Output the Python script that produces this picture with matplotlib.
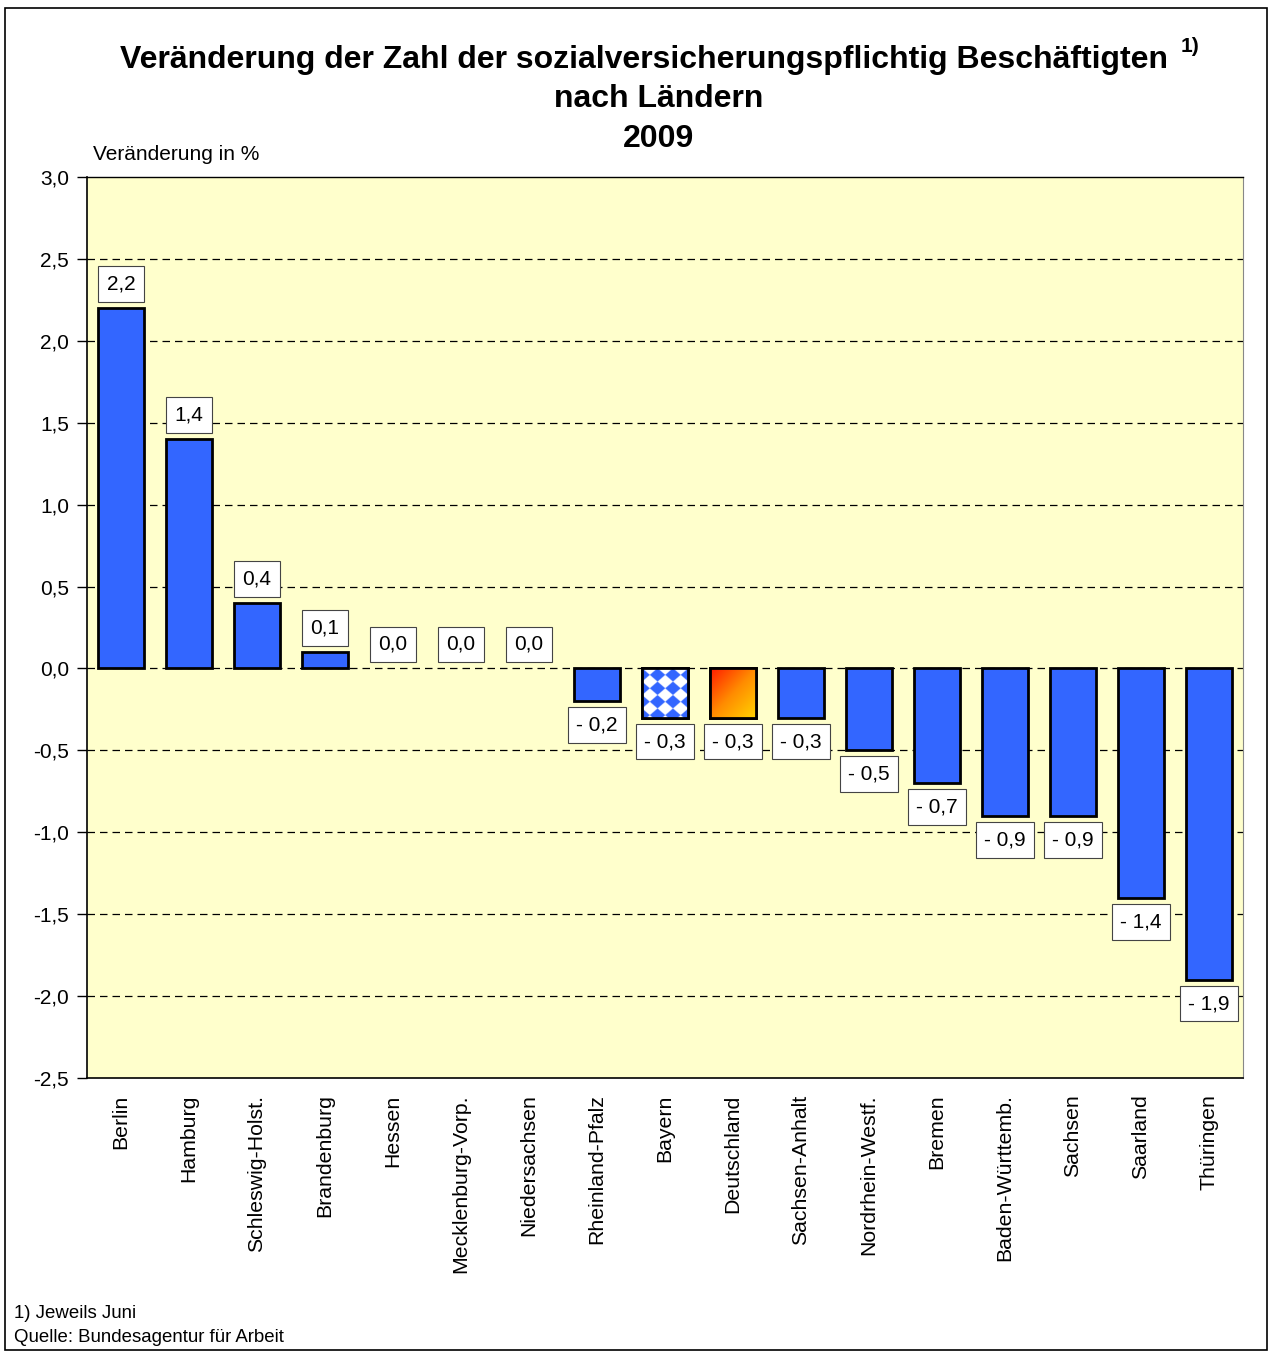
import numpy as np
import matplotlib
matplotlib.use("Agg")
import matplotlib.pyplot as plt
from matplotlib.patches import Rectangle
from matplotlib.colors import LinearSegmentedColormap, ListedColormap

plt.rcParams['font.family'] = ['Liberation Sans', 'DejaVu Sans']

# data
laender = ["Berlin", "Hamburg", "Schleswig-Holst.", "Brandenburg", "Hessen",
           "Mecklenburg-Vorp.", "Niedersachsen", "Rheinland-Pfalz", "Bayern",
           "Deutschland", "Sachsen-Anhalt", "Nordrhein-Westf.", "Bremen",
           "Baden-Württemb.", "Sachsen", "Saarland", "Thüringen"]
werte = [2.2, 1.4, 0.4, 0.1, 0.0, 0.0, 0.0, -0.2, -0.3, -0.3, -0.3, -0.5,
         -0.7, -0.9, -0.9, -1.4, -1.9]
yticks = [3.0, 2.5, 2.0, 1.5, 1.0, 0.5, 0.0, -0.5, -1.0, -1.5, -2.0, -2.5]

blue = "#3366FF"

fig = plt.figure(figsize=(12.71, 13.53), dpi=100)
fig.patches.append(Rectangle((0.004, 0.002), 0.993, 0.992, transform=fig.transFigure,
                             fill=False, edgecolor="black", lw=1.2))

ax = fig.add_axes([0.0685, 0.2033, 0.9095, 0.6659])
ax.set_facecolor("#FFFFCC")

x = np.arange(len(laender))
bars = ax.bar(x, werte, width=0.68, color=blue, edgecolor="black", linewidth=2, zorder=3)
for b, w in zip(bars, werte):
    if w == 0:
        b.set_linewidth(0)

n = 200
u, v = np.meshgrid(np.linspace(0, 1, n), np.linspace(0, 1, n))

# Bayern: blue/white diamond pattern
b = bars[laender.index("Bayern")]
bx, bw, bh = b.get_x(), b.get_width(), b.get_height()
pat = (np.floor(u / 0.33 + v / 0.27) + np.floor(u / 0.33 - v / 0.27)) % 2
b.set_facecolor("white")
im = ax.imshow(pat, extent=(bx, bx + bw, bh, 0), origin="upper",
               cmap=ListedColormap(["white", blue]),
               aspect="auto", zorder=3.5, interpolation="bilinear")
im.set_clip_path(b)
ax.bar(bx + bw / 2, bh, width=bw, fill=False, edgecolor="black", linewidth=2, zorder=4)

# Deutschland: red-yellow gradient
d = bars[laender.index("Deutschland")]
dx, dw, dh = d.get_x(), d.get_width(), d.get_height()
grad = (u + v) / 2
cm = LinearSegmentedColormap.from_list("ry", ["#FF1A00", "#FF8C00", "#FFD500"])
im2 = ax.imshow(grad, extent=(dx, dx + dw, dh, 0), origin="upper", cmap=cm,
                aspect="auto", zorder=3.5)
im2.set_clip_path(d)
ax.bar(dx + dw / 2, dh, width=dw, fill=False, edgecolor="black", linewidth=2, zorder=4)

# value labels
for xi, w in zip(x, werte):
    txt = f"{abs(w):.1f}".replace(".", ",")
    if w < 0:
        txt = "- " + txt
        off = -24
    else:
        off = 24
    ax.annotate(txt, (xi, w), xytext=(0, off), textcoords="offset pixels",
                ha="center", va="center", fontsize=15, zorder=6,
                bbox=dict(boxstyle="square,pad=0.4", fc="white", ec="#444444", lw=0.8))

ax.set_ylim(-2.5, 3.0)
ax.set_xlim(-0.5, len(laender) - 0.5)
ax.set_yticks(yticks)
ax.set_yticklabels([f"{t:.1f}".replace(".", ",") for t in yticks], fontsize=15)
for t in yticks[1:-1]:
    ax.axhline(t, color="black", lw=0.9, dashes=(6, 4), zorder=1)
ax.tick_params(axis="y", direction="out", length=7, width=1, pad=6)
ax.set_xticks(x)
ax.set_xticklabels(laender, rotation=90, fontsize=15.3, va="top", ha="center")
ax.tick_params(axis="x", length=0, pad=12)
for side in ["left", "bottom"]:
    ax.spines[side].set_color("black")
    ax.spines[side].set_linewidth(1.2)
ax.spines["top"].set_color("black")
ax.spines["top"].set_linewidth(1.0)
ax.spines["right"].set_color("#888888")
ax.spines["right"].set_linewidth(0.8)

fig.text(0.0735, 0.886, "Veränderung in %", fontsize=15, ha="left", va="center")

fig.text(0.507, 0.956, "Veränderung der Zahl der sozialversicherungspflichtig Beschäftigten",
         fontsize=23, fontweight="bold", ha="center", va="center")
fig.text(0.936, 0.966, "1)", fontsize=15, fontweight="bold", ha="center", va="center")
fig.text(0.518, 0.9265, "nach Ländern", fontsize=23, fontweight="bold", ha="center", va="center")
fig.text(0.518, 0.897, "2009", fontsize=23, fontweight="bold", ha="center", va="center")

fig.text(0.011, 0.0295, "1) Jeweils Juni", fontsize=13.4, ha="left", va="center")
fig.text(0.011, 0.0118, "Quelle: Bundesagentur für Arbeit", fontsize=13.4, ha="left", va="center")

fig.savefig("out.png", dpi=100)
